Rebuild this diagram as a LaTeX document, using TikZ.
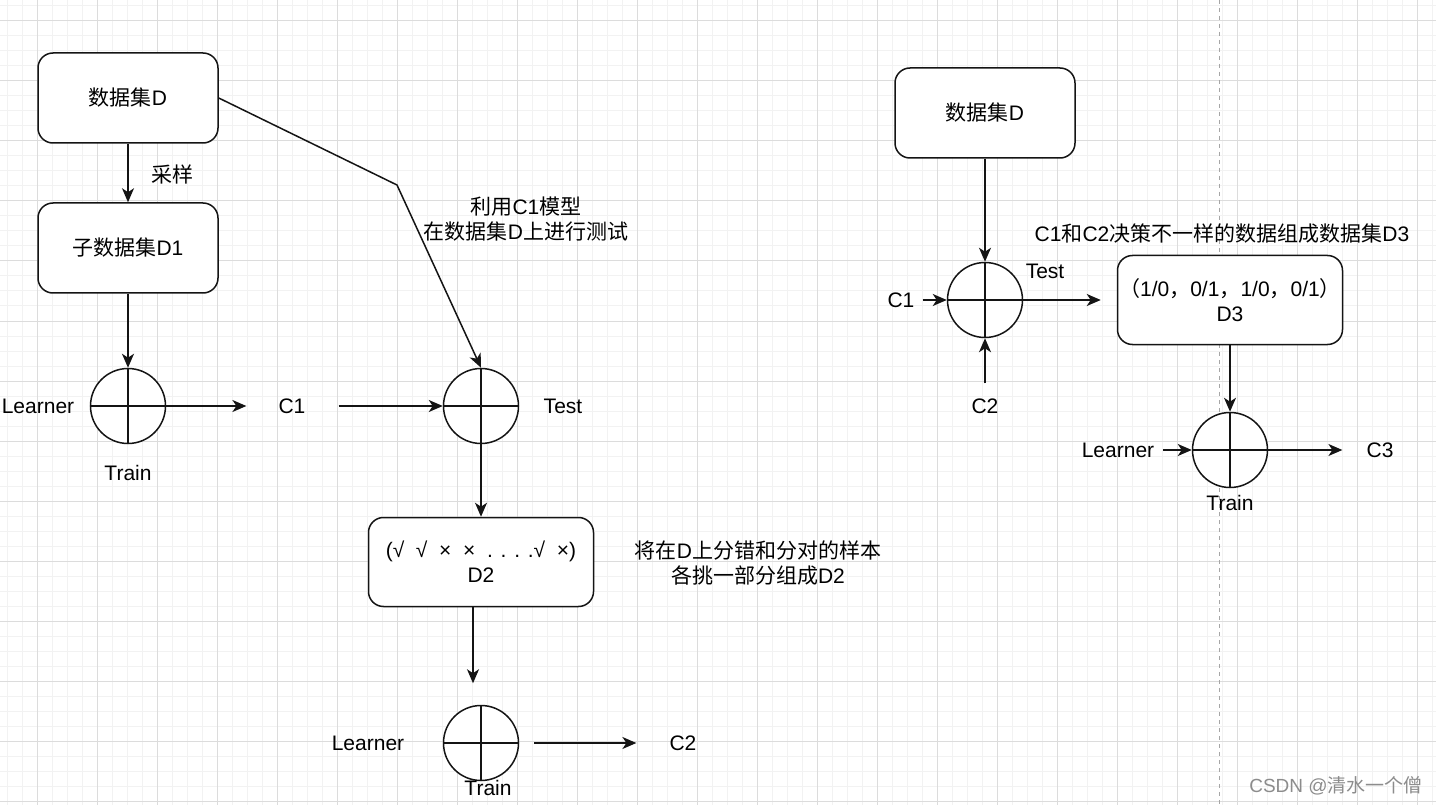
\documentclass[tikz,border=0pt]{standalone}
\usepackage{fontspec}
\setmainfont{Liberation Sans}
\newfontfamily\cjk{Noto Sans CJK SC}
\newcommand\zh[1]{{\cjk #1}}
\usetikzlibrary{arrows.meta,calc}
\definecolor{gminor}{HTML}{F2F2F2}
\definecolor{gmajor}{HTML}{DCDCDC}
\definecolor{edge}{HTML}{141414}
\begin{document}
\begin{tikzpicture}[x=1pt,y=-1pt,
  font=\fontsize{21}{25}\selectfont,
  box/.style={draw=edge, line width=1.5pt, rounded corners=15pt, fill=white,
    minimum width=180pt, minimum height=90pt, align=center, inner sep=0pt},
  wbox/.style={box, minimum width=225pt, minimum height=89pt},
  orc/.style={circle, draw=edge, line width=1.5pt, fill=white, minimum size=75pt, inner sep=0pt,
    path picture={\draw[line width=1.5pt,edge] (path picture bounding box.north) -- (path picture bounding box.south)
      (path picture bounding box.west) -- (path picture bounding box.east);}},
  lbl/.style={inner sep=0pt, align=center},
  arr/.style={draw=edge, line width=1.5pt, -{Stealth[length=14pt,width=12pt,inset=4pt]}}]
\useasboundingbox (0,0) rectangle (1436,805);
\fill[white] (0,0) rectangle (1436,805);
% grid
\foreach \x in {7,22,...,1436} \draw[gminor, line width=1pt] (\x,0) -- (\x,805);
\foreach \y in {6,21,...,805} \draw[gminor, line width=1pt] (0,\y) -- (1436,\y);
\foreach \x in {37,97,...,1436} \draw[gmajor, line width=1pt] (\x,0) -- (\x,805);
\foreach \y in {21,81,...,805} \draw[gmajor, line width=1pt] (0,\y) -- (1436,\y);
\draw[gray!70, line width=1pt, dash pattern=on 4pt off 4pt] (1219,0) -- (1219,805);

% left part
\node[box] (D) at (128,98) {\zh{数据集}D};
\node[box] (D1) at (128,248) {\zh{子数据集}D1};
\node[lbl] (S) at (172,174) {\zh{采样}};
\node[orc] (T1) at (128,406) {};
\node[lbl] (L1) at (38,406) {Learner};
\node[lbl] (Tr1) at (128,473) {Train};
\node[lbl] (C1) at (292,406) {C1};
\node[orc] (T2) at (481,406) {};
\node[lbl] (Te2) at (563,406) {Test};
\coordinate (bend) at (397,185);
\node[lbl] (N1) at (526,219) {\zh{利用}C1\zh{模型}\\\zh{在数据集}D\zh{上进行测试}};
\node[wbox] (D2) at (481,562) {(√ \ √ \ × \ × \ . . . .√ \ ×)\\D2};
\node[lbl] (N2) at (758,563) {\zh{将在}D\zh{上分错和分对的样本}\\\zh{各挑一部分组成}D2};
\node[orc] (T3) at (481,743) {};
\node[lbl] (L3) at (368,743) {Learner};
\node[lbl] (Tr3) at (488,788) {Train};
\node[lbl] (C2) at (683,743) {C2};

\draw[arr] (D.south) -- (D1.north);
\draw[arr] (D1.south) -- (T1.north);
\draw[arr] (T1.east) -- ($(C1.west)+(-32,0)$);
\draw[arr] ($(C1.east)+(33,0)$) -- (T2.west);
\draw[arr] (D.east) -- (bend) -- (T2.north);
\draw[arr] (T2.south) -- (D2.north);
\coordinate (d2o) at ($(D2.south)+(-8,0)$);
\draw[arr] (d2o) -- ($(d2o)+(0,76)$);
\draw[arr] ($(T3.east)+(15,0)$) -- ($(C2.west)+(-33,0)$);

% right part
\node[box] (RD) at (985,113) {\zh{数据集}D};
\node[orc] (RT) at (985,300) {};
\node[lbl] (RC1) at (901,300) {C1};
\node[lbl] (RC2) at (985,406) {C2};
\node[lbl] (RTe) at (1045,271) {Test};
\node[lbl] (N3) at (1222,234) {C1\zh{和}C2\zh{决策不一样的数据组成数据集}D3};
\node[wbox] (D3) at (1230,300) {\zh{（}1/0\zh{，}0/1\zh{，}1/0\zh{，}0/1\zh{）}\\D3};
\node[orc] (RT2) at (1230,450) {};
\node[lbl] (RL) at (1118,450) {Learner};
\node[lbl] (RTr) at (1230,503) {Train};
\node[lbl] (RC3) at (1380,450) {C3};

\draw[arr] (RD.south) -- (RT.north);
\draw[arr] ($(RC1.east)+(8,0)$) -- (RT.west);
\draw[arr] ($(RC2.north)+(0,-15)$) -- (RT.south);
\draw[arr] (RT.east) -- ($(D3.west)+(-16,0)$);
\draw[arr] (D3.south) -- (RT2.north);
\draw[arr] ($(RL.east)+(9,0)$) -- (RT2.west);
\draw[arr] (RT2.east) -- ($(RC3.west)+(-24,0)$);

\node[lbl, text=gray!90, font=\fontsize{19}{22}\selectfont] (wm) at (1336,786) {CSDN @\zh{清水一个僧}};
\end{tikzpicture}
\end{document}
